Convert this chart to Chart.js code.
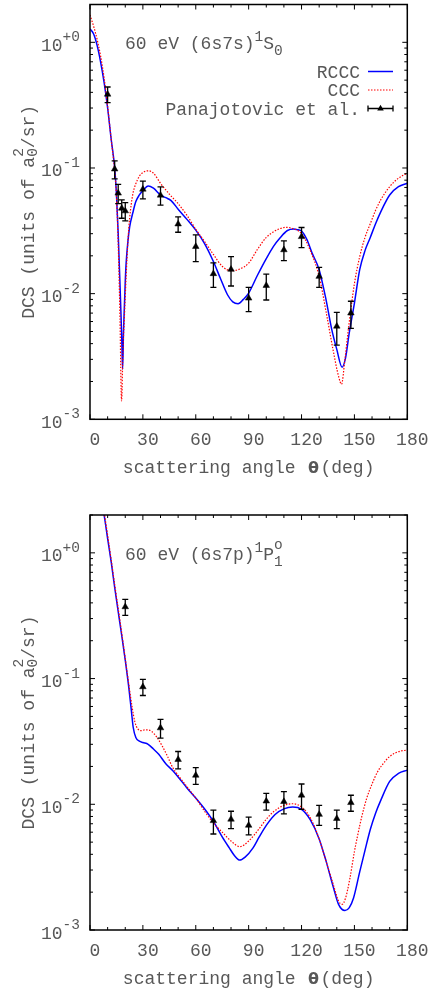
<!DOCTYPE html>
<html>
<head>
<meta charset="utf-8">
<title>DCS 60 eV</title>
<script src="https://cdn.jsdelivr.net/npm/chart.js@4.4.0/dist/chart.umd.min.js"></script>
<style>
  html, body { margin: 0; padding: 0; background: #fff; }
  .panel { position: absolute; left: 0; width: 430px; }
  #panel-7s { top: 0; height: 496px; }
  #panel-7p { top: 496px; height: 495px; }
</style>
</head>
<body>
<div class="panel" id="panel-7s"><canvas id="dcs-7s"></canvas></div>
<div class="panel" id="panel-7p"><canvas id="dcs-7p"></canvas></div>
<script>
'use strict';

/* 6s7s 1S0 */
const ang7sRccc = [0, 2, 4, 6, 8, 10, 12, 14, 15, 16, 17, 18, 18.5, 19, 20, 20.5, 21.5, 22.5, 24.3, 26, 28, 30, 33, 36, 40, 43, 46, 50, 55, 60, 65, 70, 74, 78, 81, 84, 87, 90, 95, 100, 104, 108, 112, 115.5, 118, 120, 123, 126, 130, 134, 137, 140, 143, 145, 147, 150, 153, 156, 159, 162, 165, 170, 175, 180];
const dcs7sRccc = [1.28, 1.17, 0.95, 0.70, 0.48, 0.30, 0.17, 0.10, 0.062, 0.030, 0.012, 0.0045, 0.0025, 0.0050, 0.0125, 0.0175, 0.026, 0.034, 0.044, 0.054, 0.061, 0.066, 0.072, 0.069, 0.061, 0.058, 0.055, 0.047, 0.039, 0.032, 0.025, 0.018, 0.0132, 0.0098, 0.0086, 0.0083, 0.0090, 0.0101, 0.0140, 0.019, 0.0237, 0.028, 0.0318, 0.0327, 0.0322, 0.0315, 0.027, 0.021, 0.0155, 0.0088, 0.0053, 0.0036, 0.0026, 0.0031, 0.0048, 0.0084, 0.0155, 0.022, 0.028, 0.036, 0.045, 0.061, 0.071, 0.0755];
const ang7sCcc = [0, 2, 4, 6, 8, 10, 12, 14, 15, 16, 17, 17.9, 18.7, 19.5, 20.5, 21.5, 22.5, 24.3, 26, 28, 30, 33, 36, 40, 45, 50, 55, 60, 65, 70, 75, 80, 85, 90, 95, 100, 104, 108, 111.5, 115, 120, 125, 130, 134.4, 138, 141, 142.7, 144.5, 146.5, 150, 153, 156, 159, 162, 165, 170, 175, 180];
const dcs7sCcc = [1.65, 1.35, 1.06, 0.78, 0.52, 0.31, 0.17, 0.095, 0.060, 0.025, 0.0065, 0.0014, 0.0035, 0.0065, 0.0137, 0.026, 0.040, 0.062, 0.075, 0.086, 0.092, 0.095, 0.091, 0.0755, 0.062, 0.052, 0.042, 0.0325, 0.026, 0.0205, 0.0165, 0.0152, 0.0157, 0.0175, 0.0225, 0.028, 0.031, 0.033, 0.0337, 0.033, 0.030, 0.022, 0.0137, 0.0066, 0.0035, 0.0022, 0.0019, 0.0029, 0.0051, 0.012, 0.0197, 0.028, 0.036, 0.046, 0.056, 0.071, 0.083, 0.091];
const ang7sExp = [10, 14, 16, 18, 20, 30, 40, 50, 60, 70, 80, 90, 100, 110, 120, 130, 140, 148];
const dcs7sExp = [0.386, 0.098, 0.063, 0.0478, 0.0455, 0.0677, 0.0607, 0.0358, 0.0237, 0.0144, 0.0156, 0.0092, 0.0116, 0.0223, 0.0284, 0.0137, 0.0055, 0.0070];
const err7sExp = [0.055, 0.016, 0.011, 0.008, 0.0075, 0.011, 0.010, 0.005, 0.0057, 0.0032, 0.0041, 0.002, 0.0027, 0.004, 0.0052, 0.0025, 0.0016, 0.0017];

/* 6s7p 1P1 */
const ang7pRccc = [0, 4, 8, 10, 12, 14, 16, 18, 20, 22, 23.5, 24.5, 26, 28, 30, 33, 36, 39, 43, 47, 50, 55, 60, 66, 70, 75, 79, 82, 85, 88, 92.5, 96, 100, 105, 110, 115, 120, 125, 130, 134, 138, 141, 144.6, 147, 149.5, 153, 156, 159, 162, 165, 170, 175, 180];
const dcs7pRccc = [9, 4.2, 2.0, 1.3, 0.85, 0.53, 0.34, 0.22, 0.14, 0.085, 0.055, 0.041, 0.034, 0.0318, 0.031, 0.030, 0.0275, 0.025, 0.021, 0.0185, 0.0165, 0.0135, 0.0112, 0.0088, 0.0073, 0.0055, 0.0045, 0.0039, 0.0036, 0.0038, 0.0045, 0.0055, 0.0068, 0.0083, 0.0092, 0.0095, 0.0091, 0.0075, 0.0053, 0.0035, 0.0022, 0.0016, 0.00143, 0.0015, 0.0018, 0.0029, 0.0043, 0.0063, 0.0085, 0.0108, 0.0152, 0.0176, 0.0187];
const ang7pCcc = [0, 4, 8, 10, 14, 18, 22, 24, 25.5, 27, 29, 31, 33, 35, 38, 41, 44, 47, 50, 55, 60, 65, 70, 75, 80, 85, 90, 96, 100, 104, 110, 115, 120, 125, 130, 134, 138, 141, 143, 145, 147.5, 150, 152, 154, 157, 160, 163, 166.4, 170, 175, 180];
const dcs7pCcc = [9.5, 4.4, 2.1, 1.38, 0.56, 0.23, 0.09, 0.058, 0.045, 0.040, 0.0385, 0.039, 0.039, 0.038, 0.034, 0.029, 0.024, 0.0195, 0.017, 0.0138, 0.0112, 0.0088, 0.0071, 0.0060, 0.0051, 0.0046, 0.0051, 0.0064, 0.0076, 0.0087, 0.0098, 0.0101, 0.0095, 0.0078, 0.0053, 0.0035, 0.0023, 0.0017, 0.0016, 0.0018, 0.0026, 0.0042, 0.0058, 0.0078, 0.0112, 0.0145, 0.018, 0.0211, 0.024, 0.0262, 0.027];
const ang7pExp = [20, 30, 40, 50, 60, 70, 80, 90, 100, 110, 120, 130, 140, 148];
const dcs7pExp = [0.372, 0.0859, 0.0405, 0.0227, 0.017, 0.0074, 0.0076, 0.0068, 0.0106, 0.0105, 0.0118, 0.0083, 0.0077, 0.0103];
const err7pExp = [0.054, 0.0126, 0.0069, 0.0036, 0.0026, 0.0016, 0.0012, 0.0011, 0.0016, 0.0021, 0.0027, 0.0015, 0.0013, 0.0015];

/* axes */
const xTicks = [0, 30, 60, 90, 120, 150, 180];
const yTicks = [1e-3, 1e-2, 1e-1, 1];
const yTickExp = ['-3', '-2', '-1', '+0'];
const legendLabels = ['RCCC', 'CCC', 'Panajotovic et al.'];

const FONT = "'Liberation Mono', 'Courier New', monospace";
const INK = '#585858';
const BIG = 18, SMALL = 14.5;

const pts = (xs, ys) => xs.map((x, i) => ({ x, y: ys[i] }));

/* rich text: plain strings, {up, dn} super/subscripts, {t, font} odd glyphs */
function partW(ctx, p) {
  if (typeof p === 'string') { ctx.font = `${BIG}px ${FONT}`; return ctx.measureText(p).width; }
  if (p.t) { ctx.font = p.font; return ctx.measureText(p.t).width + (p.pad || 0); }
  ctx.font = `${SMALL}px ${FONT}`;
  return Math.max(ctx.measureText(p.up || '').width, ctx.measureText(p.dn || '').width);
}
function drawRich(ctx, parts, x, y, align) {
  const total = parts.reduce((s, p) => s + partW(ctx, p), 0);
  if (align === 'center') x -= total / 2;
  else if (align === 'right') x -= total;
  ctx.textAlign = 'left';
  ctx.textBaseline = 'alphabetic';
  parts.forEach(p => {
    const w = partW(ctx, p);
    if (typeof p === 'string') ctx.fillText(p, x, y);
    else if (p.t) ctx.fillText(p.t, x + (p.pad || 0) / 2, y);
    else {
      if (p.up) ctx.fillText(p.up, x, y - (p.r || 8));
      if (p.dn) ctx.fillText(p.dn, x, y + (p.l || 5));
    }
    x += w;
  });
}

function triangle(ctx, x, y, r) {
  ctx.beginPath();
  ctx.moveTo(x, y - r);
  ctx.lineTo(x + r * 0.866, y + r * 0.5);
  ctx.lineTo(x - r * 0.866, y + r * 0.5);
  ctx.closePath();
  ctx.fill();
}

/* vertical error bars under the experimental triangles */
const errorBars = {
  id: 'errorBars',
  beforeDatasetDraw(chart, args) {
    const ds = chart.data.datasets[args.index];
    if (!ds.errors) return;
    const { ctx, scales: { x, y } } = chart;
    ctx.save();
    ctx.strokeStyle = '#000';
    ctx.lineWidth = 1.3;
    ds.data.forEach((p, i) => {
      const px = x.getPixelForValue(p.x);
      const hi = y.getPixelForValue(p.y + ds.errors[i]);
      const lo = y.getPixelForValue(p.y - ds.errors[i]);
      ctx.beginPath();
      ctx.moveTo(px, hi); ctx.lineTo(px, lo);
      ctx.moveTo(px - 3, hi); ctx.lineTo(px + 3, hi);
      ctx.moveTo(px - 3, lo); ctx.lineTo(px + 3, lo);
      ctx.stroke();
    });
    ctx.restore();
  }
};

/* gnuplot-like frame: inward ticks on all sides, labels, titles, key */
function framePlugin(title, withKey) {
  return {
    id: 'frame',
    afterDraw(chart) {
      const { ctx, chartArea: a, scales: { x, y } } = chart;
      ctx.save();
      ctx.strokeStyle = '#000';
      ctx.lineWidth = 1;
      ctx.beginPath();
      for (let v = 0; v <= 180; v += 10) {
        const px = x.getPixelForValue(v);
        const len = v % 30 === 0 ? 5 : 3;
        ctx.moveTo(px, a.bottom); ctx.lineTo(px, a.bottom - len);
        ctx.moveTo(px, a.top); ctx.lineTo(px, a.top + len);
      }
      for (let e = -3; e <= 0; e++) {
        for (let m = 1; m <= 9; m++) {
          const v = m * Math.pow(10, e);
          if (v > y.max) break;
          const py = y.getPixelForValue(v);
          const len = m === 1 ? 5 : 3;
          ctx.moveTo(a.left, py); ctx.lineTo(a.left + len, py);
          ctx.moveTo(a.right, py); ctx.lineTo(a.right - len, py);
        }
      }
      ctx.stroke();
      ctx.lineWidth = 1.5;
      ctx.strokeRect(a.left, a.top, a.right - a.left, a.bottom - a.top);

      ctx.fillStyle = INK;
      // x tick labels
      ctx.font = `${BIG}px ${FONT}`;
      ctx.textAlign = 'center';
      ctx.textBaseline = 'alphabetic';
      xTicks.forEach(v => ctx.fillText(String(v), x.getPixelForValue(v) + 5, a.bottom + 25.5));
      // y tick labels
      yTicks.forEach((v, i) => {
        drawRich(ctx, ['10', { up: yTickExp[i], r: 9.5 }], 80, y.getPixelForValue(v) + 8.5, 'right');
      });
      // axis titles
      drawRich(ctx, ['scattering angle ', { t: 'θ', font: 'bold 16px "DejaVu Sans"', pad: 3 }, '(deg)'],
        (a.left + a.right) / 2, a.bottom + 53.5, 'center');
      ctx.save();
      ctx.translate(33.5, (a.top + a.bottom) / 2);
      ctx.rotate(-Math.PI / 2);
      drawRich(ctx, ['DCS (units of a', { up: '2', dn: '0', r: 11, l: 3 }, '/sr)'], 0, 0, 'center');
      ctx.restore();
      // panel title
      drawRich(ctx, title, 125, a.top + 44.8, 'left');

      if (withKey) {
        const ds = chart.data.datasets;
        legendLabels.forEach((lab, i) => {
          const base = a.top + 73 + i * 18.5;
          ctx.fillStyle = INK;
          drawRich(ctx, [lab], 360, base, 'right');
          const ly = base - 6, x0 = 368, x1 = 393;
          ctx.save();
          if (i < 2) {
            ctx.strokeStyle = ds[i].borderColor;
            ctx.lineWidth = ds[i].borderWidth;
            ctx.setLineDash(ds[i].borderDash || []);
            ctx.beginPath(); ctx.moveTo(x0, ly); ctx.lineTo(x1, ly); ctx.stroke();
          } else {
            ctx.strokeStyle = '#000';
            ctx.fillStyle = '#000';
            ctx.lineWidth = 1.3;
            ctx.beginPath();
            ctx.moveTo(x0, ly); ctx.lineTo(x1, ly);
            ctx.moveTo(x0, ly - 3); ctx.lineTo(x0, ly + 3);
            ctx.moveTo(x1, ly - 3); ctx.lineTo(x1, ly + 3);
            ctx.stroke();
            triangle(ctx, (x0 + x1) / 2, ly, ds[2].pointRadius);
          }
          ctx.restore();
        });
      }
      ctx.restore();
    }
  };
}

function makePanel(id, p) {
  return new Chart(document.getElementById(id), {
    type: 'scatter',
    data: {
      datasets: [
        {
          label: 'RCCC', data: pts(p.rcccAng, p.rcccDcs), showLine: true, order: 2,
          borderColor: '#0000ff', borderWidth: 1.5, pointRadius: 0, cubicInterpolationMode: 'monotone'
        },
        {
          label: 'CCC', data: pts(p.cccAng, p.cccDcs), showLine: true, order: 1,
          borderColor: '#ff0000', borderWidth: 1.2, borderDash: [1.5, 1.5], pointRadius: 0,
          cubicInterpolationMode: 'monotone'
        },
        {
          label: 'Panajotovic et al.', data: pts(p.expAng, p.expDcs), errors: p.expErr, order: 0,
          pointStyle: 'triangle', pointRadius: 3.8, backgroundColor: '#000', borderColor: '#000', borderWidth: 0.5
        }
      ]
    },
    options: {
      responsive: true,
      maintainAspectRatio: false,
      animation: false,
      layout: { padding: p.pad },
      scales: {
        x: { type: 'linear', min: 0, max: 180, display: false },
        y: { type: 'logarithmic', min: 1e-3, max: 2, display: false }
      },
      plugins: { legend: { display: false }, tooltip: { enabled: false } }
    },
    plugins: [errorBars, framePlugin(p.title, p.key)]
  });
}

makePanel('dcs-7s', {
  rcccAng: ang7sRccc, rcccDcs: dcs7sRccc, cccAng: ang7sCcc, cccDcs: dcs7sCcc,
  expAng: ang7sExp, expDcs: dcs7sExp, expErr: err7sExp,
  pad: { left: 90, right: 22.7, top: 4.3, bottom: 76.7 },
  title: ['60 eV (6s7s)', { up: '1' }, 'S', { dn: '0', l: 5.5 }],
  key: true
});
makePanel('dcs-7p', {
  rcccAng: ang7pRccc, rcccDcs: dcs7pRccc, cccAng: ang7pCcc, cccDcs: dcs7pCcc,
  expAng: ang7pExp, expDcs: dcs7pExp, expErr: err7pExp,
  pad: { left: 90, right: 22.7, top: 19, bottom: 61 },
  title: ['60 eV (6s7p)', { up: '1' }, 'P', { up: 'o', dn: '1', r: 10.5, l: 6 }],
  key: false
});
</script>
</body>
</html>
